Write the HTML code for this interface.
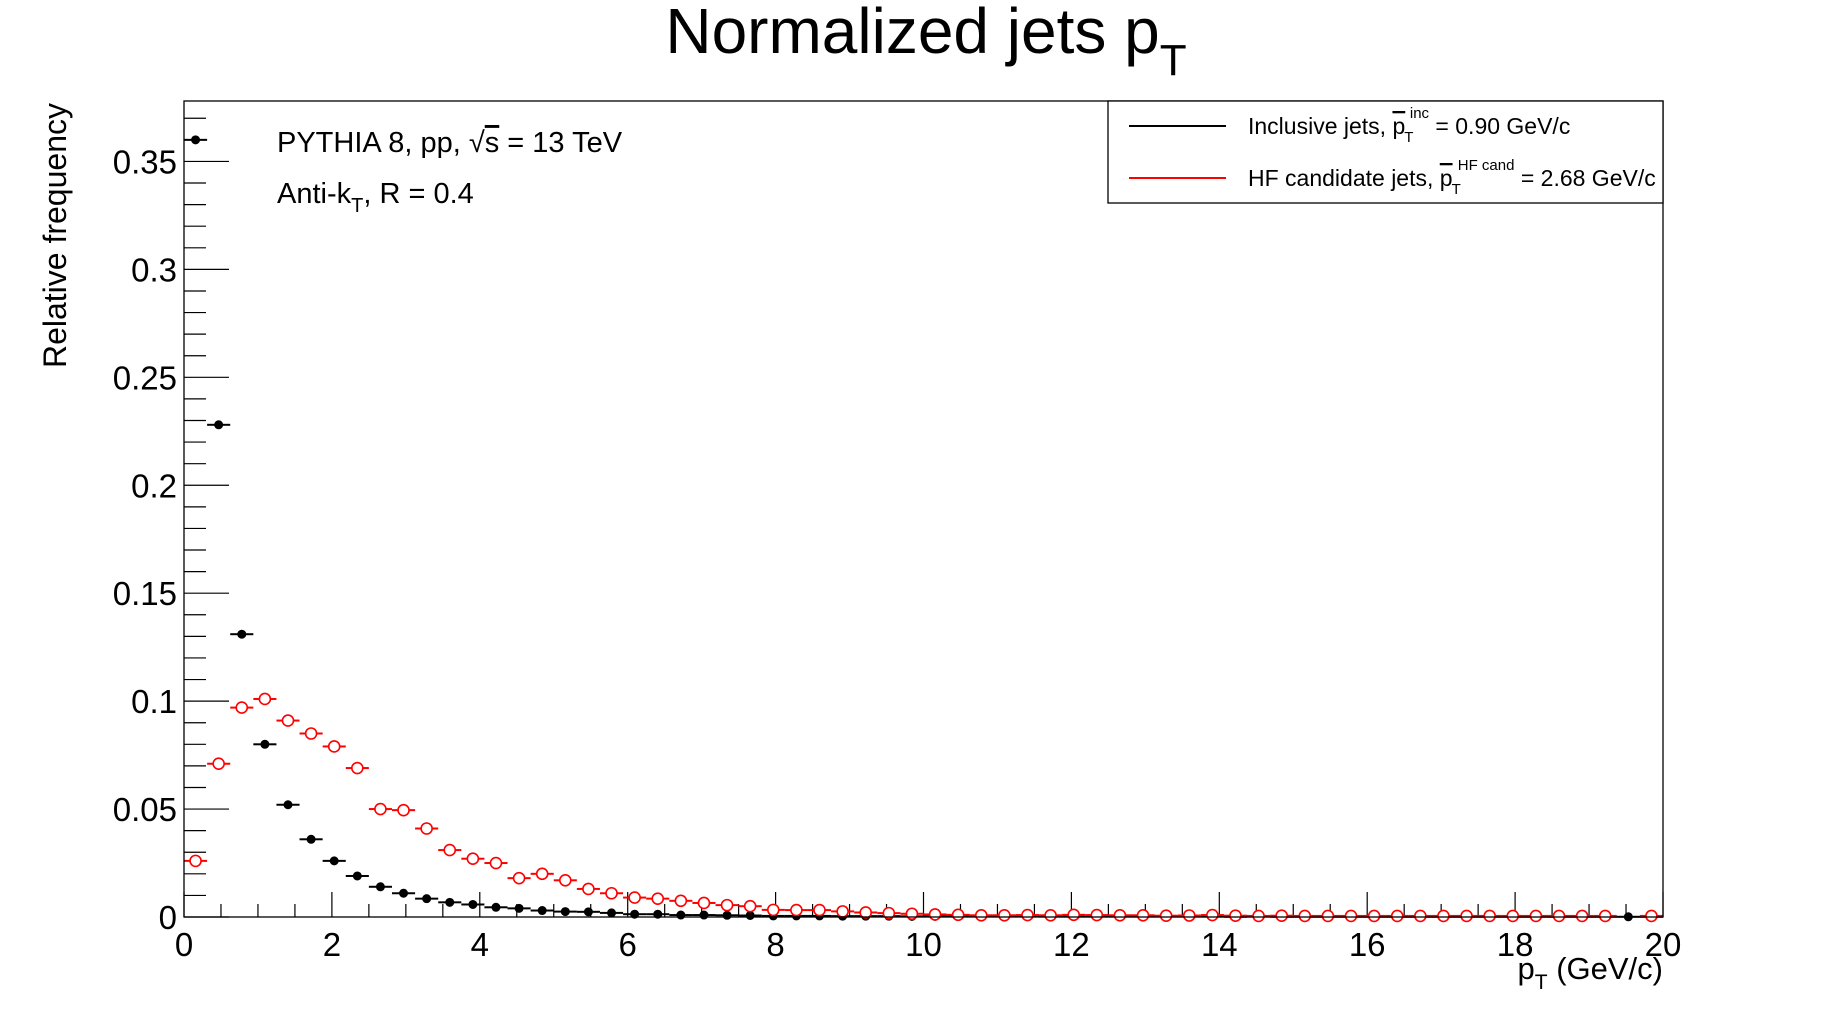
<!DOCTYPE html>
<html><head><meta charset="utf-8">
<style>
html,body{margin:0;padding:0;background:#fff;}
svg{display:block;font-family:"Liberation Sans",Arial,sans-serif;}
</style></head>
<body>
<svg id="chart" width="1848" height="1019" viewBox="0 0 1848 1019" xmlns="http://www.w3.org/2000/svg">
  <rect x="0" y="0" width="1848" height="1019" fill="#fff"/>
  <text x="926" y="53" font-size="64" text-anchor="middle">Normalized jets p<tspan font-size="44" dy="22">T</tspan></text>
  <g id="axes"></g>
  <g id="marks"></g>
  <rect x="184" y="101" width="1479" height="816" fill="none" stroke="#000" stroke-width="1.3"/>
  <text x="277" y="152" font-size="29">PYTHIA 8, pp, <tspan>√</tspan><tspan text-decoration="overline">s</tspan> = 13 TeV</text>
  <text x="277" y="203" font-size="29">Anti-k<tspan font-size="20" dy="9">T</tspan><tspan dy="-9">, R = 0.4</tspan></text>
  <g>
    <rect x="1108" y="101" width="555" height="102" fill="#fff" stroke="#000" stroke-width="1.3"/>
    <line x1="1129" y1="126" x2="1226" y2="126" stroke="#000" stroke-width="2"/>
    <text x="1248" y="134" font-size="23">Inclusive jets, <tspan text-decoration="overline">p</tspan><tspan font-size="15" dy="8" dx="-1">T</tspan><tspan font-size="15" dy="-24" dx="-3">inc</tspan><tspan dy="16"> = 0.90 GeV/c</tspan></text>
    <line x1="1129" y1="178" x2="1226" y2="178" stroke="#f00" stroke-width="2"/>
    <text x="1248" y="186" font-size="23">HF candidate jets, <tspan text-decoration="overline">p</tspan><tspan font-size="15" dy="8" dx="-1">T</tspan><tspan font-size="15" dy="-24" dx="-3">HF cand</tspan><tspan dy="16"> = 2.68 GeV/c</tspan></text>
  </g>
  <text x="1663" y="979" font-size="31" text-anchor="end">p<tspan font-size="21" dy="10">T</tspan><tspan dy="-10"> (GeV/c)</tspan></text>
  <text transform="translate(66,103) rotate(-90)" font-size="32" text-anchor="end">Relative frequency</text>
</svg>
<script>
const binCount = 64;
const xMin = 0, xMax = 20;
const yMin = 0, yMax = 0.378;
const xTickLabels = ["0","2","4","6","8","10","12","14","16","18","20"];
const yTickLabels = ["0","0.05","0.1","0.15","0.2","0.25","0.3","0.35"];
const inclusiveValues = [0.360,0.228,0.131,0.080,0.052,0.036,0.026,0.019,0.014,0.011,0.0085,0.0068,0.0058,0.0045,0.0040,0.0030,0.0025,0.0024,0.0019,0.0013,0.0013,0.0009,0.0009,0.0008,0.0007,0.0005,0.0005,0.0005,0.0004,0.0004,0.0004,0.0003,0.0003,0.0003,0.0003,0.0003,0.0003,0.0002,0.0002,0.0002,0.0002,0.0002,0.0002,0.0002,0.0002,0.0001,0.0002,0.0001,0.0001,0.0001,0.0001,0.0001,0.0001,0.0001,0.0001,0.0001,0.0001,0.0001,0.0001,0.0001,0.0001,0.0001,0.0001,0.0001];
const hfValues = [0.026,0.071,0.097,0.101,0.091,0.085,0.079,0.069,0.050,0.0495,0.041,0.031,0.027,0.025,0.018,0.020,0.017,0.013,0.011,0.009,0.0085,0.0075,0.0065,0.0055,0.005,0.0033,0.0032,0.0032,0.0026,0.0021,0.0018,0.0015,0.0012,0.0010,0.0008,0.0008,0.0009,0.0008,0.0010,0.0009,0.0008,0.0008,0.0006,0.0007,0.0009,0.0006,0.0005,0.0006,0.0005,0.0005,0.0005,0.0005,0.0005,0.0005,0.0005,0.0005,0.0005,0.0005,0.0005,0.0005,0.0005,0.0005,0,0.0005];

const L=184,R=1663,T=101,B=917;
const sx=v=>L+(v-xMin)/(xMax-xMin)*(R-L);
const sy=v=>B-(v-yMin)/(yMax-yMin)*(B-T);
const NS="http://www.w3.org/2000/svg";
function mk(tag,attrs,parent){const e=document.createElementNS(NS,tag);for(const k in attrs)e.setAttribute(k,attrs[k]);parent.appendChild(e);return e;}
const axes=document.getElementById('axes'), marks=document.getElementById('marks');

for(let i=0;i<=40;i++){
  const v=i*0.5, x=sx(v), major=(i%4===0);
  const t=mk('line',{x1:x,y1:B,x2:x,y2:B-(major?25:13),stroke:'#000','stroke-width':1.2},axes);
  
  
}
xTickLabels.forEach((s,i)=>{
  const t=mk('text',{x:sx(i*2),y:B+39,'font-size':33,'text-anchor':'middle'},axes);
  t.textContent=s;
  
  
});
for(let i=0;i<=37;i++){
  const v=i*0.01, y=sy(v), major=(i%5===0);
  const t=mk('line',{x1:L,y1:y,x2:L+(major?45:22),y2:y,stroke:'#000','stroke-width':1.2},axes);
  
  
}
yTickLabels.forEach((s,i)=>{
  const t=mk('text',{x:L-7,y:sy(i*0.05)+12,'font-size':33,'text-anchor':'end'},axes);
  t.textContent=s;
  
  
});

const bw=(xMax-xMin)/binCount;
function series(vals,color,open,name){
  const g=mk('g',{},marks);
  
  
  vals.forEach((v,i)=>{
    if(v<=0) return;
    const x0=sx(i*bw), x1=sx((i+1)*bw), xc=sx((i+0.5)*bw), y=sy(v);
    const r=open?5.5:4;
    const l1=mk('line',{x1:x0,y1:y,x2:xc-r,y2:y,stroke:color,'stroke-width':2},g);
    
    
    const l2=mk('line',{x1:xc+r,y1:y,x2:x1,y2:y,stroke:color,'stroke-width':2},g);
    
    
    const c=mk('circle',{cx:xc,cy:y,r:r,fill:open?'#fff':color,stroke:color,'stroke-width':open?1.6:1},g);
    
    
  });
}
series(inclusiveValues,'#000',false,'inclusive-series');
series(hfValues,'#f00',true,'hf-series');
</script>
</body></html>
